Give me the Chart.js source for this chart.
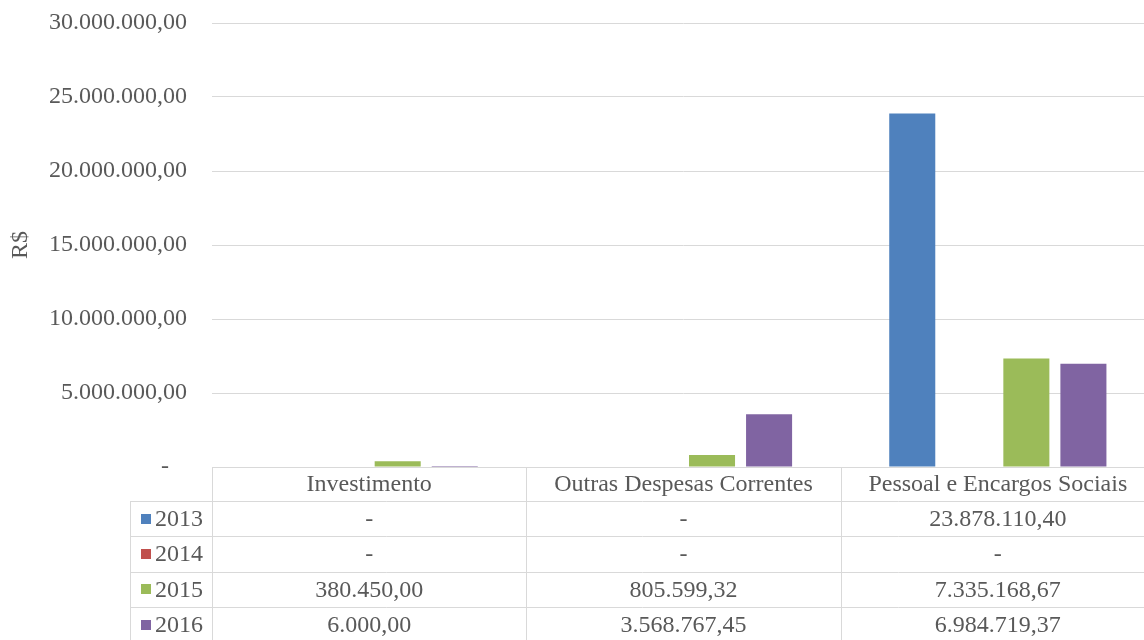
<!DOCTYPE html>
<html>
<head>
<meta charset="utf-8">
<script src="https://cdn.jsdelivr.net/npm/chart.js@4/dist/chart.umd.min.js"></script>
<style>
  html, body { margin: 0; padding: 0; background: #fff; overflow: hidden; }
  #wrap { width: 1155px; height: 640px; position: relative; }
</style>
</head>
<body>
<div id="wrap"><canvas id="chart"></canvas></div>
<script>
// data
const categories = ["Investimento", "Outras Despesas Correntes", "Pessoal e Encargos Sociais"];
const years = ["2013", "2014", "2015", "2016"];
const values2013 = [0, 0, 23878110.40];
const values2014 = [0, 0, 0];
const values2015 = [380450.00, 805599.32, 7335168.67];
const values2016 = [6000.00, 3568767.45, 6984719.37];
const seriesColors = ["#4F81BD", "#C0504D", "#9BBB59", "#8064A2"];

const serif = "'Liberation Serif', 'Times New Roman', serif";
const textColor = "#595959";
const lineColor = "#d9d9d9";

// 1234567.8 -> "1.234.567,80", 0 -> "-"
function fmt(v) {
  if (v === 0) return "-";
  const parts = v.toFixed(2).split(".");
  const int = parts[0].replace(/\B(?=(\d{3})+(?!\d))/g, ".");
  return int + "," + parts[1];
}

// data table drawn under the plot, columns follow the x scale
const dataTable = {
  id: "dataTable",
  afterDraw(chart) {
    const ctx = chart.ctx;
    const area = chart.chartArea;
    const x = chart.scales.x;
    const colW = (area.right - area.left) / categories.length;
    const top = area.bottom;
    const headerH = 34;
    const rowH = 35.3;
    const legendLeft = 130;
    const bottom = chart.height + 5;

    ctx.save();
    ctx.strokeStyle = lineColor;
    ctx.lineWidth = 1;
    ctx.beginPath();
    // header top
    ctx.moveTo(area.left, Math.round(top) + 0.5);
    ctx.lineTo(area.right, Math.round(top) + 0.5);
    // row lines
    for (let j = 0; j < years.length; j++) {
      const y = Math.round(top + headerH + j * rowH) + 0.5;
      ctx.moveTo(legendLeft, y);
      ctx.lineTo(area.right, y);
    }
    // verticals
    ctx.moveTo(legendLeft + 0.5, top + headerH);
    ctx.lineTo(legendLeft + 0.5, bottom);
    for (let i = 0; i < categories.length; i++) {
      const xx = Math.round(area.left + i * colW) + 0.5;
      ctx.moveTo(xx, top);
      ctx.lineTo(xx, bottom);
    }
    ctx.stroke();

    ctx.fillStyle = textColor;
    ctx.font = "24px " + serif;
    ctx.textAlign = "center";
    ctx.textBaseline = "middle";
    categories.forEach((c, i) => {
      ctx.fillText(c, x.getPixelForValue(i), top + headerH / 2 + 1);
    });

    chart.data.datasets.forEach((ds, j) => {
      const cy = top + headerH + j * rowH + rowH / 2 + 1;
      ctx.fillStyle = ds.backgroundColor;
      ctx.fillRect(141, Math.round(cy) - 6, 10, 10);
      ctx.fillStyle = textColor;
      ctx.textAlign = "left";
      ctx.fillText(ds.label, 155, cy);
      ctx.textAlign = "center";
      ds.data.forEach((v, i) => {
        ctx.fillText(fmt(v), x.getPixelForValue(i), cy);
      });
    });
    ctx.restore();
  }
};

const allValues = [values2013, values2014, values2015, values2016];

new Chart(document.getElementById("chart"), {
  type: "bar",
  data: {
    labels: categories,
    datasets: years.map((y, i) => ({
      label: y,
      data: allValues[i],
      backgroundColor: seriesColors[i],
      categoryPercentage: 0.726,
      barPercentage: 0.807
    }))
  },
  options: {
    responsive: true,
    maintainAspectRatio: false,
    animation: false,
    layout: { padding: { top: 23, bottom: 173, left: 0, right: 0 } },
    plugins: {
      legend: { display: false },
      tooltip: { enabled: false }
    },
    scales: {
      x: { display: false },
      y: {
        min: 0,
        max: 30000000,
        afterFit(s) {
          s.width = 212;
          s.paddingTop = 0;
          s.paddingBottom = 0;
        },
        ticks: {
          stepSize: 5000000,
          padding: 25,
          color: textColor,
          font: { family: serif, size: 24 },
          callback: v => v === 0 ? "-   " : fmt(v)
        },
        grid: { color: lineColor, drawTicks: false, tickLength: 0 },
        border: { display: false },
        title: {
          display: true,
          text: "R$",
          color: textColor,
          font: { family: serif, size: 24 },
          padding: { top: 6, bottom: 0 }
        }
      }
    }
  },
  plugins: [dataTable]
});
</script>
</body>
</html>
